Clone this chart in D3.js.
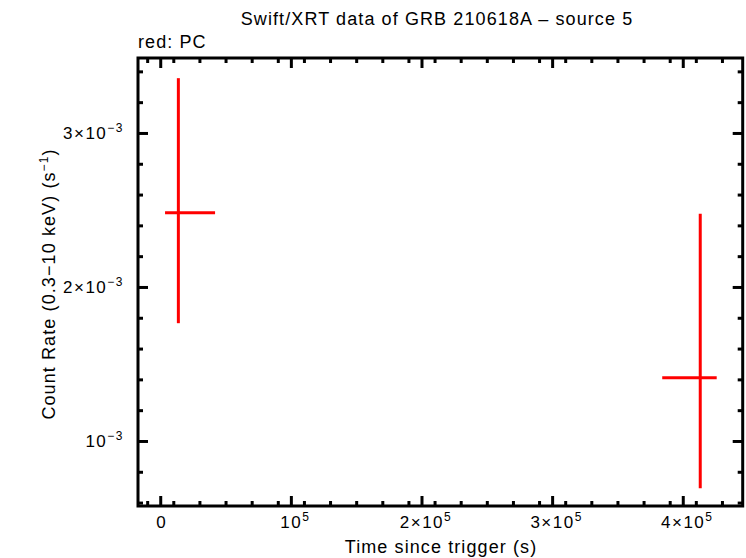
<!DOCTYPE html>
<html><head><meta charset="utf-8">
<script src="https://cdn.jsdelivr.net/npm/d3@7"></script>
<style>body{margin:0;background:#fff}svg{display:block}text{font-family:"Liberation Sans",Arial,sans-serif;fill:#000}</style>
</head><body><svg id="c" width="746" height="558"></svg>
<script>
const times = [13500, 413000];
const timeLo = [3300, 383900];
const timeHi = [41600, 425600];
const rates = [2.485e-3, 1.414e-3];
const rateLo = [1.768e-3, 0.697e-3];
const rateHi = [3.359e-3, 2.479e-3];
const xMajor = [0, 1e5, 2e5, 3e5, 4e5];
const xMajorLabels = [["0",""],["10","5"],["2×10","5"],["3×10","5"],["4×10","5"]];
const yMajor = [1e-3, 2e-3, 3e-3];
const yMajorLabels = [["10","−3"],["2×10","−3"],["3×10","−3"]];

const svg = d3.select("#c");
const L=138, R=742.7, T=58, B=506;
const x = d3.scaleLinear().domain([-17400, 445500]).range([L, R]);
const y = d3.scaleLinear().domain([0.581e-3, 3.49e-3]).range([B, T]);

const xMinor = d3.range(-1e4, 445000, 2e4).map(v=>Math.round(v)).filter(v=>v%1e5!==0 && v>x.domain()[0]);
const yMinor = d3.range(6e-4, 3.5e-3, 2e-4).filter(v=>Math.abs(v*1e3-Math.round(v*1e3))>1e-6 && v<y.domain()[1]);

const g = svg.append("g");
function tick(x1,y1,x2,y2){g.append("line").attr("x1",x1).attr("y1",y1).attr("x2",x2).attr("y2",y2).attr("stroke","#000").attr("stroke-width",3);}
xMajor.forEach(v=>{tick(x(v),B,x(v),B-10);tick(x(v),T,x(v),T+10);});
xMinor.forEach(v=>{tick(x(v),B,x(v),B-5);tick(x(v),T,x(v),T+5);});
yMajor.forEach(v=>{tick(L,y(v),L+10,y(v));tick(R,y(v),R-10,y(v));});
yMinor.forEach(v=>{tick(L,y(v),L+5,y(v));tick(R,y(v),R-5,y(v));});
g.append("rect").attr("x",L).attr("y",T).attr("width",R-L).attr("height",B-T).attr("fill","none").attr("stroke","#000").attr("stroke-width",3);

// labels
xMajor.forEach((v,i)=>{
  const t = svg.append("text").attr("x",x(v)+(xMajorLabels[i][1]?4:1)).attr("y",528).attr("text-anchor","middle").attr("font-size",17).attr("letter-spacing",1.5);
  t.append("tspan").text(xMajorLabels[i][0]);
  if(xMajorLabels[i][1]) t.append("tspan").attr("dy",-7).attr("font-size",12).text(xMajorLabels[i][1]);
});
yMajor.forEach((v,i)=>{
  const t = svg.append("text").attr("x",124).attr("y",y(v)+6).attr("text-anchor","end").attr("font-size",17).attr("letter-spacing",1.5);
  t.append("tspan").text(yMajorLabels[i][0]);
  t.append("tspan").attr("dy",-7).attr("font-size",12).text(yMajorLabels[i][1]);
});

svg.append("text").attr("x",437).attr("y",25).attr("text-anchor","middle").attr("font-size",18).attr("letter-spacing",1.1).text("Swift/XRT data of GRB 210618A – source 5");
svg.append("text").attr("x",138).attr("y",48).attr("font-size",18).attr("letter-spacing",1.1).text("red: PC");
svg.append("text").attr("x",441).attr("y",553).attr("text-anchor","middle").attr("font-size",18).attr("letter-spacing",1.1).text("Time since trigger (s)");
const yl = svg.append("text").attr("transform","translate(55,284) rotate(-90)").attr("text-anchor","middle").attr("font-size",18).attr("letter-spacing",1.1);
yl.append("tspan").text("Count Rate (0.3−10 keV) (s");
yl.append("tspan").attr("dy",-7).attr("font-size",12).text("−1");
yl.append("tspan").attr("dy",7).text(")");

const pts = svg.append("g");
times.forEach((t,i)=>{
  pts.append("line").attr("x1",x(t)).attr("x2",x(t)).attr("y1",y(rateLo[i])).attr("y2",y(rateHi[i])).attr("stroke","#ff0000").attr("stroke-width",3);
  pts.append("line").attr("x1",x(timeLo[i])).attr("x2",x(timeHi[i])).attr("y1",y(rates[i])).attr("y2",y(rates[i])).attr("stroke","#ff0000").attr("stroke-width",3);
});
</script></body></html>
